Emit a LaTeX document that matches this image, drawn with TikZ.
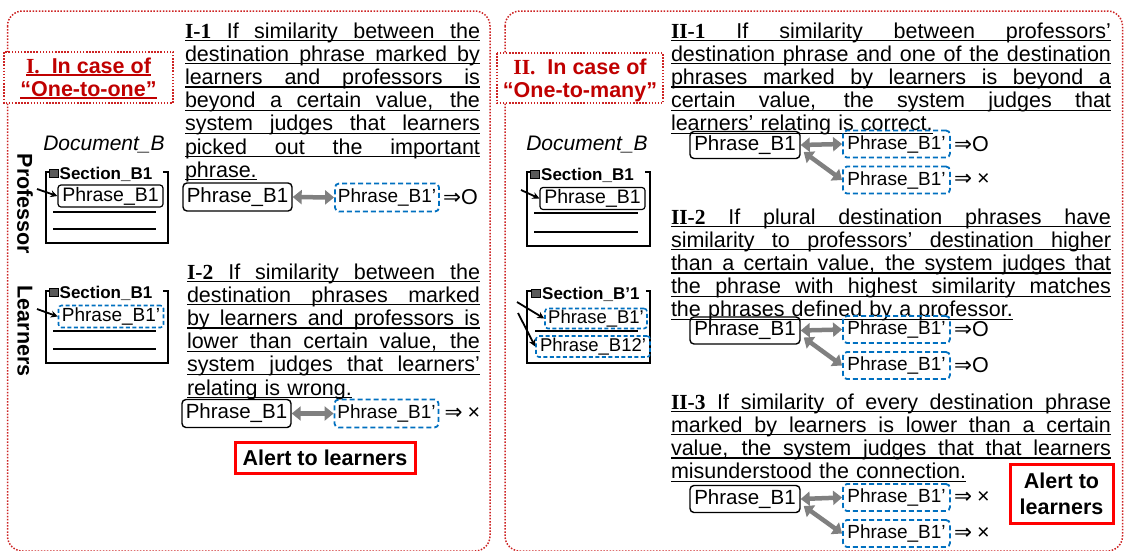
\documentclass[tikz,border=0pt]{standalone}
\usepackage{fontspec}
\setmainfont{Liberation Sans}
\newfontfamily\tnr{Liberation Serif}
\newfontfamily\symf{DejaVu Sans}
\usetikzlibrary{arrows.meta,calc}
\definecolor{dred}{RGB}{192,0,0}
\definecolor{bred}{RGB}{205,35,35}
\definecolor{pblue}{RGB}{0,112,192}
\definecolor{agray}{RGB}{128,128,128}
\newcommand\ULJ[1]{\noindent\rlap{\rule[-3pt]{\hsize}{1.2pt}}\hbox to\hsize{\spaceskip=\fontdimen2\font plus 1fil\relax\strut#1}\par}
\newcommand\ULN[1]{\noindent\sbox0{\strut#1}\rlap{\rule[-3pt]{\wd0}{1.2pt}}\usebox0\par}
\newcommand\ULT[1]{\sbox0{\strut#1}\rlap{\rule[-2.5pt]{\wd0}{1.2pt}}\usebox0}
\newcommand\lab[1]{{\tnr\bfseries #1}}
\begin{document}
\begin{tikzpicture}[x=1pt,y=-1pt,
  dotbox/.style={draw=bred,line width=1.5pt,dash pattern=on 1.5pt off 1.6pt},
  para/.style={anchor=north west,inner sep=0pt,outer sep=0pt,align=left,font=\fontsize{21.5}{22}\selectfont},
  ttext/.style={inner sep=0pt,align=center,text=dred,font=\fontsize{21.5}{23}\selectfont\bfseries},
  solidph/.style={draw,line width=1.4pt,rounded corners=4pt,inner sep=0pt,minimum width=109pt,minimum height=28pt,font=\fontsize{20.5}{20.5}\selectfont},
  dashph/.style={draw=pblue,line width=1.8pt,dash pattern=on 5pt off 3pt,rounded corners=4pt,inner sep=0pt,minimum width=104pt,minimum height=28pt,font=\fontsize{19}{19}\selectfont},
  rsolid/.style={solidph,minimum width=110pt,minimum height=27pt},
  rdash/.style={dashph,minimum width=107pt,minimum height=27pt},
  dsolid/.style={draw,line width=1.2pt,rounded corners=3pt,inner sep=0pt,minimum width=105pt,minimum height=22pt,font=\fontsize{19.5}{19.5}\selectfont},
  ddash/.style={draw=pblue,line width=1.6pt,dash pattern=on 4pt off 2.5pt,rounded corners=3pt,inner sep=0pt,minimum width=105pt,minimum height=22pt,font=\fontsize{19}{19}\selectfont},
  gar/.style={draw=agray,line width=4.5pt,{Triangle[length=9pt,width=14pt]}-{Triangle[length=9pt,width=14pt]}},
  darr/.style={draw,line width=1.8pt,-{Stealth[length=7pt,width=7pt]}},
  docl/.style={draw,line width=1.5pt},
  sq/.style={draw,line width=0.6pt,fill=black!65,minimum width=9pt,minimum height=8pt,inner sep=0pt},
  sect/.style={anchor=west,inner sep=0pt,font=\fontsize{17}{17}\selectfont\bfseries},
  res/.style={anchor=west,inner sep=0pt,font=\fontsize{21.5}{21.5}\selectfont},
  alert/.style={draw=red,line width=3pt,inner sep=0pt,align=center,font=\fontsize{21.5}{26}\selectfont\bfseries},
  vlab/.style={rotate=-90,inner sep=0pt,font=\fontsize{21.5}{21.5}\selectfont\bfseries},
  doclab/.style={inner sep=0pt,font=\fontsize{21}{21}\selectfont\itshape}
]
\useasboundingbox (0,0) rectangle (1124,550);
\fill[white] (0,0) rectangle (1124,550);

% outer boxes
\draw[dotbox,rounded corners=15pt] (7.5,11) rectangle (490,551);
\draw[dotbox,rounded corners=15pt] (505,11) rectangle (1122.5,551);

% titles
\draw[dotbox,fill=white] (4,52) rectangle (173,103);
\node[ttext] (t1) at (88.5,80) {\ULT{\lab{I.}\ \ In case of}\\\ULT{“One-to-one”}};
\draw[dotbox,fill=white] (497,53) rectangle (663,103);
\node[ttext] (t2) at (580,80) {\lab{II.}\ \ In case of\\“One-to-many”};

% paragraphs
\node[para,text width=295pt] (p11) at (185,22.6) {%
\ULJ{\lab{I-1} If similarity between the}
\ULJ{destination phrase marked by}
\ULJ{learners and professors is}
\ULJ{beyond a certain value, the}
\ULJ{system judges that learners}
\ULJ{picked out the important}
\ULN{phrase.}};
\node[para,text width=293pt] (p12) at (187,263.6) {%
\ULJ{\lab{I-2} If similarity between the}
\ULJ{destination phrases marked}
\ULJ{by learners and professors is}
\ULJ{lower than certain value, the}
\ULJ{system judges that learners’}
\ULN{relating is wrong.}};
\node[para,text width=440pt] (p21) at (671,22.6) {%
\ULJ{\lab{II-1} If similarity between professors’}
\ULJ{destination phrase and one of the destination}
\ULJ{phrases marked by learners is beyond a}
\ULJ{certain value, the system judges that}
\ULN{learners’ relating is correct.}};
\node[para,text width=440pt] (p22) at (671,208.6) {%
\ULJ{\lab{II-2} If plural destination phrases have}
\ULJ{similarity to professors’ destination higher}
\ULJ{than a certain value, the system judges that}
\ULJ{the phrase with highest similarity matches}
\ULN{the phrases defined by a professor.}};
\node[para,text width=440pt] (p23) at (671,393.6) {%
\ULJ{\lab{II-3} If similarity of every destination phrase}
\ULJ{marked by learners is lower than a certain}
\ULJ{value, the system judges that that learners}
\ULN{misunderstood the connection.}};

% left document boxes
\node[doclab] (docl) at (104,145) {Document\_B};
\node[vlab] (prof) at (25,204) {Professor};
\node[vlab] (lrn) at (25,331) {Learners};

\draw[docl] (49,172) -- (46,172) -- (46,243) -- (168,243) -- (168,172) -- (163,172);
\node[sq] (sq1) at (54,173.5) {};
\node[sect] (se1) at (59.5,174) {Section\_B1};
\node[dsolid] (dp1) at (110.5,196) {Phrase\_B1};
\draw[docl] (53,212) -- (156,212);
\draw[docl] (53,229) -- (156,229);
\coordinate (a1) at (37,189);
\draw[darr] (a1) -- (dp1.west);

\draw[docl] (49,291) -- (46,291) -- (46,363) -- (168,363) -- (168,291) -- (163,291);
\node[sq] (sq2) at (54,292.5) {};
\node[sect] (se2) at (59.5,293) {Section\_B1};
\node[ddash] (dp2) at (111,316.5) {Phrase\_B1’};
\draw[docl] (53,331) -- (156,331);
\draw[docl] (53,349) -- (156,349);
\coordinate (a2) at (37,309);
\draw[darr] (a2) -- (dp2.west);

% left rows
\node[solidph] (s11) at (237.5,197) {Phrase\_B1};
\node[dashph] (d11) at (387,197.5) {Phrase\_B1’};
\draw[gar] (s11.east) -- (d11.west);
\node[res] (r11) at ([xshift=3pt]d11.east) {{\symf ⇒}O};

\node[solidph] (s12) at (236.5,413.5) {Phrase\_B1};
\node[dashph] (d12) at (386.5,413.5) {Phrase\_B1’};
\draw[gar] (s12.east) -- (d12.west);
\node[res] (r12) at ([xshift=5pt]d12.east) {{\symf ⇒}\hspace{5pt}×};

\node[alert,minimum width=180pt,minimum height=31pt] (al1) at (325,457.5) {Alert to learners};

% right document boxes
\node[doclab] (docr) at (587,145) {Document\_B};

\draw[docl] (530,172) -- (527,172) -- (527,246) -- (650,246) -- (650,172) -- (645,172);
\node[sq] (sq3) at (535,174) {};
\node[sect] (se3) at (541,175) {Section\_B1};
\node[dsolid] (dq1) at (592.5,198.5) {Phrase\_B1};
\draw[docl] (534,213) -- (638,213);
\draw[docl] (534,232) -- (638,232);
\coordinate (a3) at (521,190);
\draw[darr] (a3) -- (dq1.west);

\draw[docl] (531,291) -- (527,291) -- (527,363) -- (650,363) -- (650,291) -- (646,291);
\node[sq] (sq4) at (536,293) {};
\node[sect] (se4) at (542,294) {Section\_B’1};
\node[ddash,minimum width=102pt,minimum height=20pt,font=\fontsize{18.5}{18.5}\selectfont] (dq2) at (596,318.5) {Phrase\_B1’};
\draw[docl] (535,331) -- (638,331);
\node[ddash,minimum width=114pt,minimum height=21pt,font=\fontsize{18.5}{18.5}\selectfont] (dq3) at (593,346.5) {Phrase\_B12’};
\coordinate (a4) at (517,302);
\coordinate (a5) at (518,313);
\draw[darr] (a4) -- (dq2.west);
\draw[darr] (a5) -- (dq3.west);

% right rows
\node[rsolid] (s21) at (745,145) {Phrase\_B1};
\node[rdash] (d21) at (896.5,144) {Phrase\_B1’};
\node[rdash] (d22) at (896.5,180) {Phrase\_B1’};
\draw[gar] (s21.east) -- (d21.west);
\draw[gar] ([xshift=3pt,yshift=-7pt]s21.east) -- (d22.west);
\node[res] (r21) at ([xshift=3pt]d21.east) {{\symf ⇒}O};
\node[res] (r22) at ([xshift=3pt]d22.east) {{\symf ⇒}\hspace{5pt}×};

\node[rsolid] (s22) at (745,330.5) {Phrase\_B1};
\node[rdash] (d23) at (896.5,329.5) {Phrase\_B1’};
\node[rdash] (d24) at (896.5,365.5) {Phrase\_B1’};
\draw[gar] (s22.east) -- (d23.west);
\draw[gar] ([xshift=3pt,yshift=-7pt]s22.east) -- (d24.west);
\node[res] (r23) at ([xshift=3pt]d23.east) {{\symf ⇒}O};
\node[res] (r24) at ([xshift=3pt]d24.east) {{\symf ⇒}O};

\node[rsolid] (s23) at (745,499) {Phrase\_B1};
\node[rdash] (d25) at (896.5,497.5) {Phrase\_B1’};
\node[rdash] (d26) at (896.5,533.5) {Phrase\_B1’};
\draw[gar] (s23.east) -- (d25.west);
\draw[gar] ([xshift=3pt,yshift=-7pt]s23.east) -- (d26.west);
\node[res] (r25) at ([xshift=3pt]d25.east) {{\symf ⇒}\hspace{5pt}×};
\node[res] (r26) at ([xshift=3pt]d26.east) {{\symf ⇒}\hspace{5pt}×};

\node[alert,minimum width=103pt,minimum height=59pt] (al2) at (1061.5,493.5) {Alert to\\learners};
\end{tikzpicture}
\end{document}
